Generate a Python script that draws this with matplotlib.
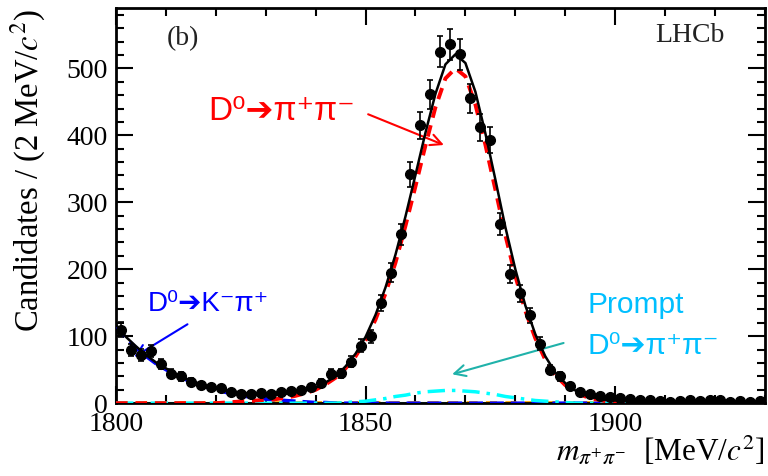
import numpy as np
import matplotlib
matplotlib.use("Agg")
import matplotlib.pyplot as plt

plt.rcParams['font.family'] = ['Liberation Serif', 'DejaVu Serif']
plt.rcParams['mathtext.fontset'] = 'stix'

# Binned data: 2 MeV bins from 1800 to 1930
bin_centres = np.arange(1801, 1930, 2)
counts = [110, 80, 72, 78, 58, 44, 40, 32, 27, 24, 22, 16, 14, 14, 15,
          14, 16, 18, 20, 24, 30, 44, 45, 62, 86, 100, 150, 195, 252, 342,
          415, 461, 525, 536, 521, 455, 412, 393, 268, 193, 164, 131, 89, 50, 40,
          25, 17, 13, 11, 9, 7, 6, 4, 5, 3, 2, 3, 4, 3, 5,
          4, 2, 3, 2, 3]

# Fit components, every 2 MeV from 1800 to 1930
curve_x = np.arange(1800, 1931, 2)
signal = [0] * 11 + [1, 2, 3, 4, 5, 6, 8, 11, 15, 20, 28, 38, 52, 70, 94,
                     125, 164, 210, 265, 324, 385, 442, 485, 500, 488, 446,
                     386, 319, 251, 190, 138, 97, 65, 42, 27, 17, 10, 6, 3,
                     2, 1] + [0] * 14
kpi = [115, 97, 83, 70, 59, 50, 42, 35, 29, 24, 20, 16, 13, 10, 8, 6, 5, 4,
       3, 2, 1, 1] + [0] * 44
prompt = [0] * 23 + [1, 2, 3, 5, 7, 10, 12, 15, 17, 18, 19, 19, 18, 17, 15,
                     13, 10, 8, 6, 4, 3, 2, 1] + [0] * 20
comb_level = 2

total = np.array(signal) + np.array(kpi) + np.array(prompt) + comb_level

fig = plt.figure(figsize=(7.68, 4.76), dpi=100)
ax = fig.add_axes([0.151, 0.153, 0.845, 0.830])

# components
ax.axhline(0.3, color='#2a9d8f', lw=1.5, zorder=1)
ax.axhline(comb_level, color='#ffa500', lw=2, ls=(0, (4, 3)), zorder=2)
ax.plot(curve_x, kpi, color='#0000ff', lw=2.5, ls=(0, (4, 2)), zorder=3)
ax.plot(curve_x, prompt, color='#00ffff', lw=2.5, ls=(0, (5, 2, 1, 2)), zorder=3)
ax.plot(curve_x, signal, color='#ff0000', lw=2.8, ls=(0, (3, 2)), zorder=3)
ax.plot(curve_x, total, color='black', lw=1.8, zorder=4)

# data
ax.errorbar(bin_centres, counts, yerr=np.sqrt(counts), fmt='o', color='black',
            ms=7, elinewidth=1.2, capsize=2.5, capthick=1.2, zorder=5)

ax.set_xlim(1800, 1930)
ax.set_ylim(0, 590)
ax.set_xticks([1800, 1850, 1900])
ax.set_xticks(np.arange(1800, 1931, 10), minor=True)
ax.set_yticks(np.arange(0, 501, 100))
ax.set_yticks(np.arange(0, 591, 20), minor=True)
ax.tick_params(which='both', direction='in', top=True, right=True, width=1.5,
               labelsize=20)
ax.tick_params(which='major', length=12)
ax.tick_params(which='minor', length=6)
ax.tick_params(axis='x', pad=6)
ax.tick_params(axis='y', pad=6)
for s in ax.spines.values():
    s.set_linewidth(2)

fig.text(0.037, 0.641, 'Candidates / (2 MeV/$c^2$)', rotation=90,
         ha='center', va='center', fontsize=23.5)
fig.text(0.996, 0.054, r'$m_{\pi^{+}\pi^{-}}$  [MeV/$c^{2}$]',
         ha='right', va='center', fontsize=22.5)

ax.text(1810.2, 544, '(b)', fontsize=20, ha='left', va='center', color='#222222')
ax.text(1922, 549, 'LHCb', fontsize=20, ha='right', va='center', color='#222222')

sans = ['Liberation Sans', 'DejaVu Sans']
arrow = '\u2794'
ax.text(1818.4, 436, 'D\u2070' + arrow + '\u03c0\u207a\u03c0\u207b', color='#ff0000',
        fontsize=24, family=sans, ha='left', va='center')
ax.annotate('', xy=(1866.2, 384), xytext=(1850, 433),
            arrowprops=dict(arrowstyle='->,head_length=0.8,head_width=0.4',
                            color='#ff0000', lw=1.5))

ax.text(1806.4, 148, 'D\u2070' + arrow + 'K\u207b\u03c0\u207a', color='#0000ff',
        fontsize=20, family=sans, ha='left', va='center')
ax.annotate('', xy=(1803.2, 67), xytext=(1814.8, 120),
            arrowprops=dict(arrowstyle='->,head_length=0.8,head_width=0.4',
                            color='#0000ff', lw=1.5))

ax.text(1894.4, 146, 'Prompt', color='#00bfff', fontsize=21.5, family=sans,
        ha='left', va='center')
ax.text(1894.4, 86, 'D\u2070' + arrow + '\u03c0\u207a\u03c0\u207b', color='#00bfff',
        fontsize=21.5, family=sans, ha='left', va='center')
ax.annotate('', xy=(1866.8, 42), xytext=(1890.2, 91),
            arrowprops=dict(arrowstyle='->,head_length=0.8,head_width=0.4',
                            color='#20b2aa', lw=1.5))

fig.savefig('out.png', dpi=100)
